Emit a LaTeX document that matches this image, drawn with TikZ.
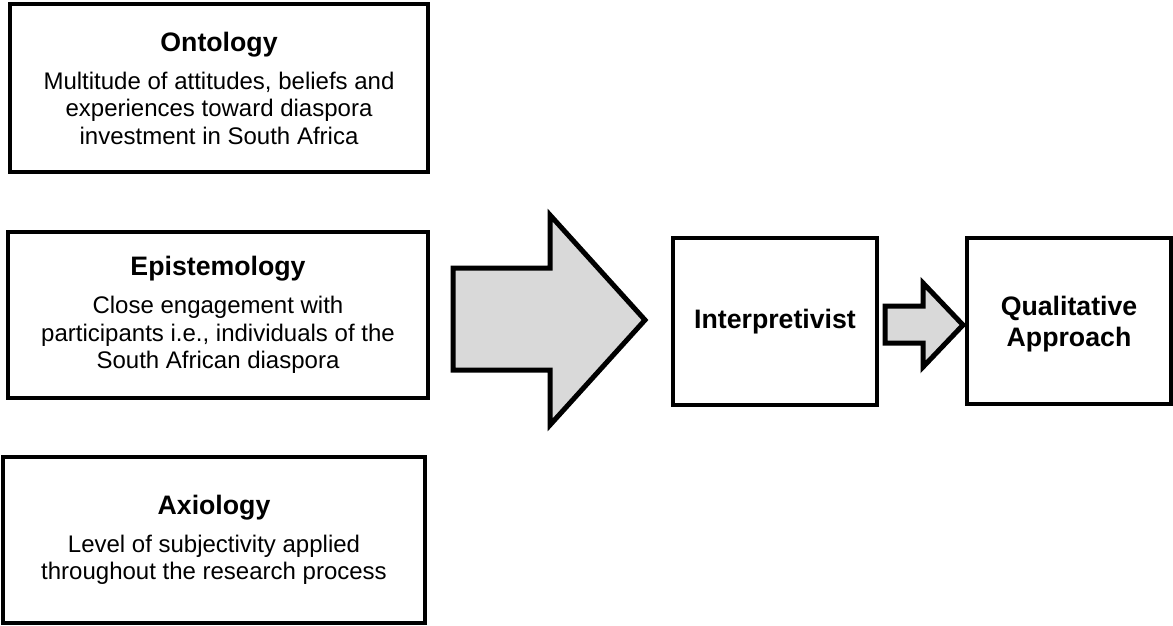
\documentclass[tikz,border=0pt]{standalone}
\usepackage{fontspec}
\setmainfont{Liberation Sans}
\begin{document}
\begin{tikzpicture}[x=1pt,y=-1pt,
  box/.style={draw=black, line width=3.8pt, fill=white, rectangle, inner sep=0pt, align=center,
    font=\fontsize{24}{27.5}\selectfont},
  bigarrow/.style={draw=black, line width=5pt, fill=arrowgray, line join=miter},
  ttl/.style={font=\fontsize{26.7}{31}\selectfont\bfseries, align=center}]
\definecolor{arrowgray}{HTML}{D9D9D9}
\useasboundingbox (0,0) rectangle (1173,625);
\node[box, minimum width=418pt, minimum height=168pt] (onto) at (219,88)
  {{\fontsize{26.7}{27.5}\selectfont\bfseries Ontology}\\[10.5pt]
   Multitude of attitudes, beliefs and\\experiences toward diaspora\\investment in South Africa};
\node[box, minimum width=420pt, minimum height=166pt] (epis) at (218,315)
  {{\fontsize{26.7}{27.5}\selectfont\bfseries Epistemology}\\[10.5pt]
   Close engagement with\\participants i.e., individuals of the\\South African diaspora};
\node[box, minimum width=422pt, minimum height=166pt] (axio) at (214,540)
  {{\fontsize{26.7}{27.5}\selectfont\bfseries Axiology}\\[10.5pt]
   Level of subjectivity applied\\throughout the research process};
\node[box, ttl, minimum width=204pt, minimum height=167pt] (interp) at (775,321.5) {Interpretivist};
\node[box, ttl, minimum width=204pt, minimum height=166pt, text depth=0pt] (qual) at (1069,321)
  {\raisebox{-4pt}{}Qualitative\\Approach};
% big block arrow
\coordinate (ba1) at (453,268);
\coordinate (ba2) at (550,268);
\coordinate (ba3) at (550,215);
\coordinate (batip) at (645,320);
\coordinate (ba5) at (550,425);
\coordinate (ba6) at (550,370);
\coordinate (ba7) at (453,370);
\draw[bigarrow] (ba1) -- (ba2) -- (ba3) -- (batip) -- (ba5) -- (ba6) -- (ba7) -- cycle;
% small block arrow
\coordinate (sa1) at (885,306);
\coordinate (sa2) at (923,306);
\coordinate (sa3) at (923,283);
\coordinate (satip) at (963,325);
\coordinate (sa5) at (923,367);
\coordinate (sa6) at (923,343);
\coordinate (sa7) at (885,343);
\draw[bigarrow] (sa1) -- (sa2) -- (sa3) -- (satip) -- (sa5) -- (sa6) -- (sa7) -- cycle;
\end{tikzpicture}
\end{document}
